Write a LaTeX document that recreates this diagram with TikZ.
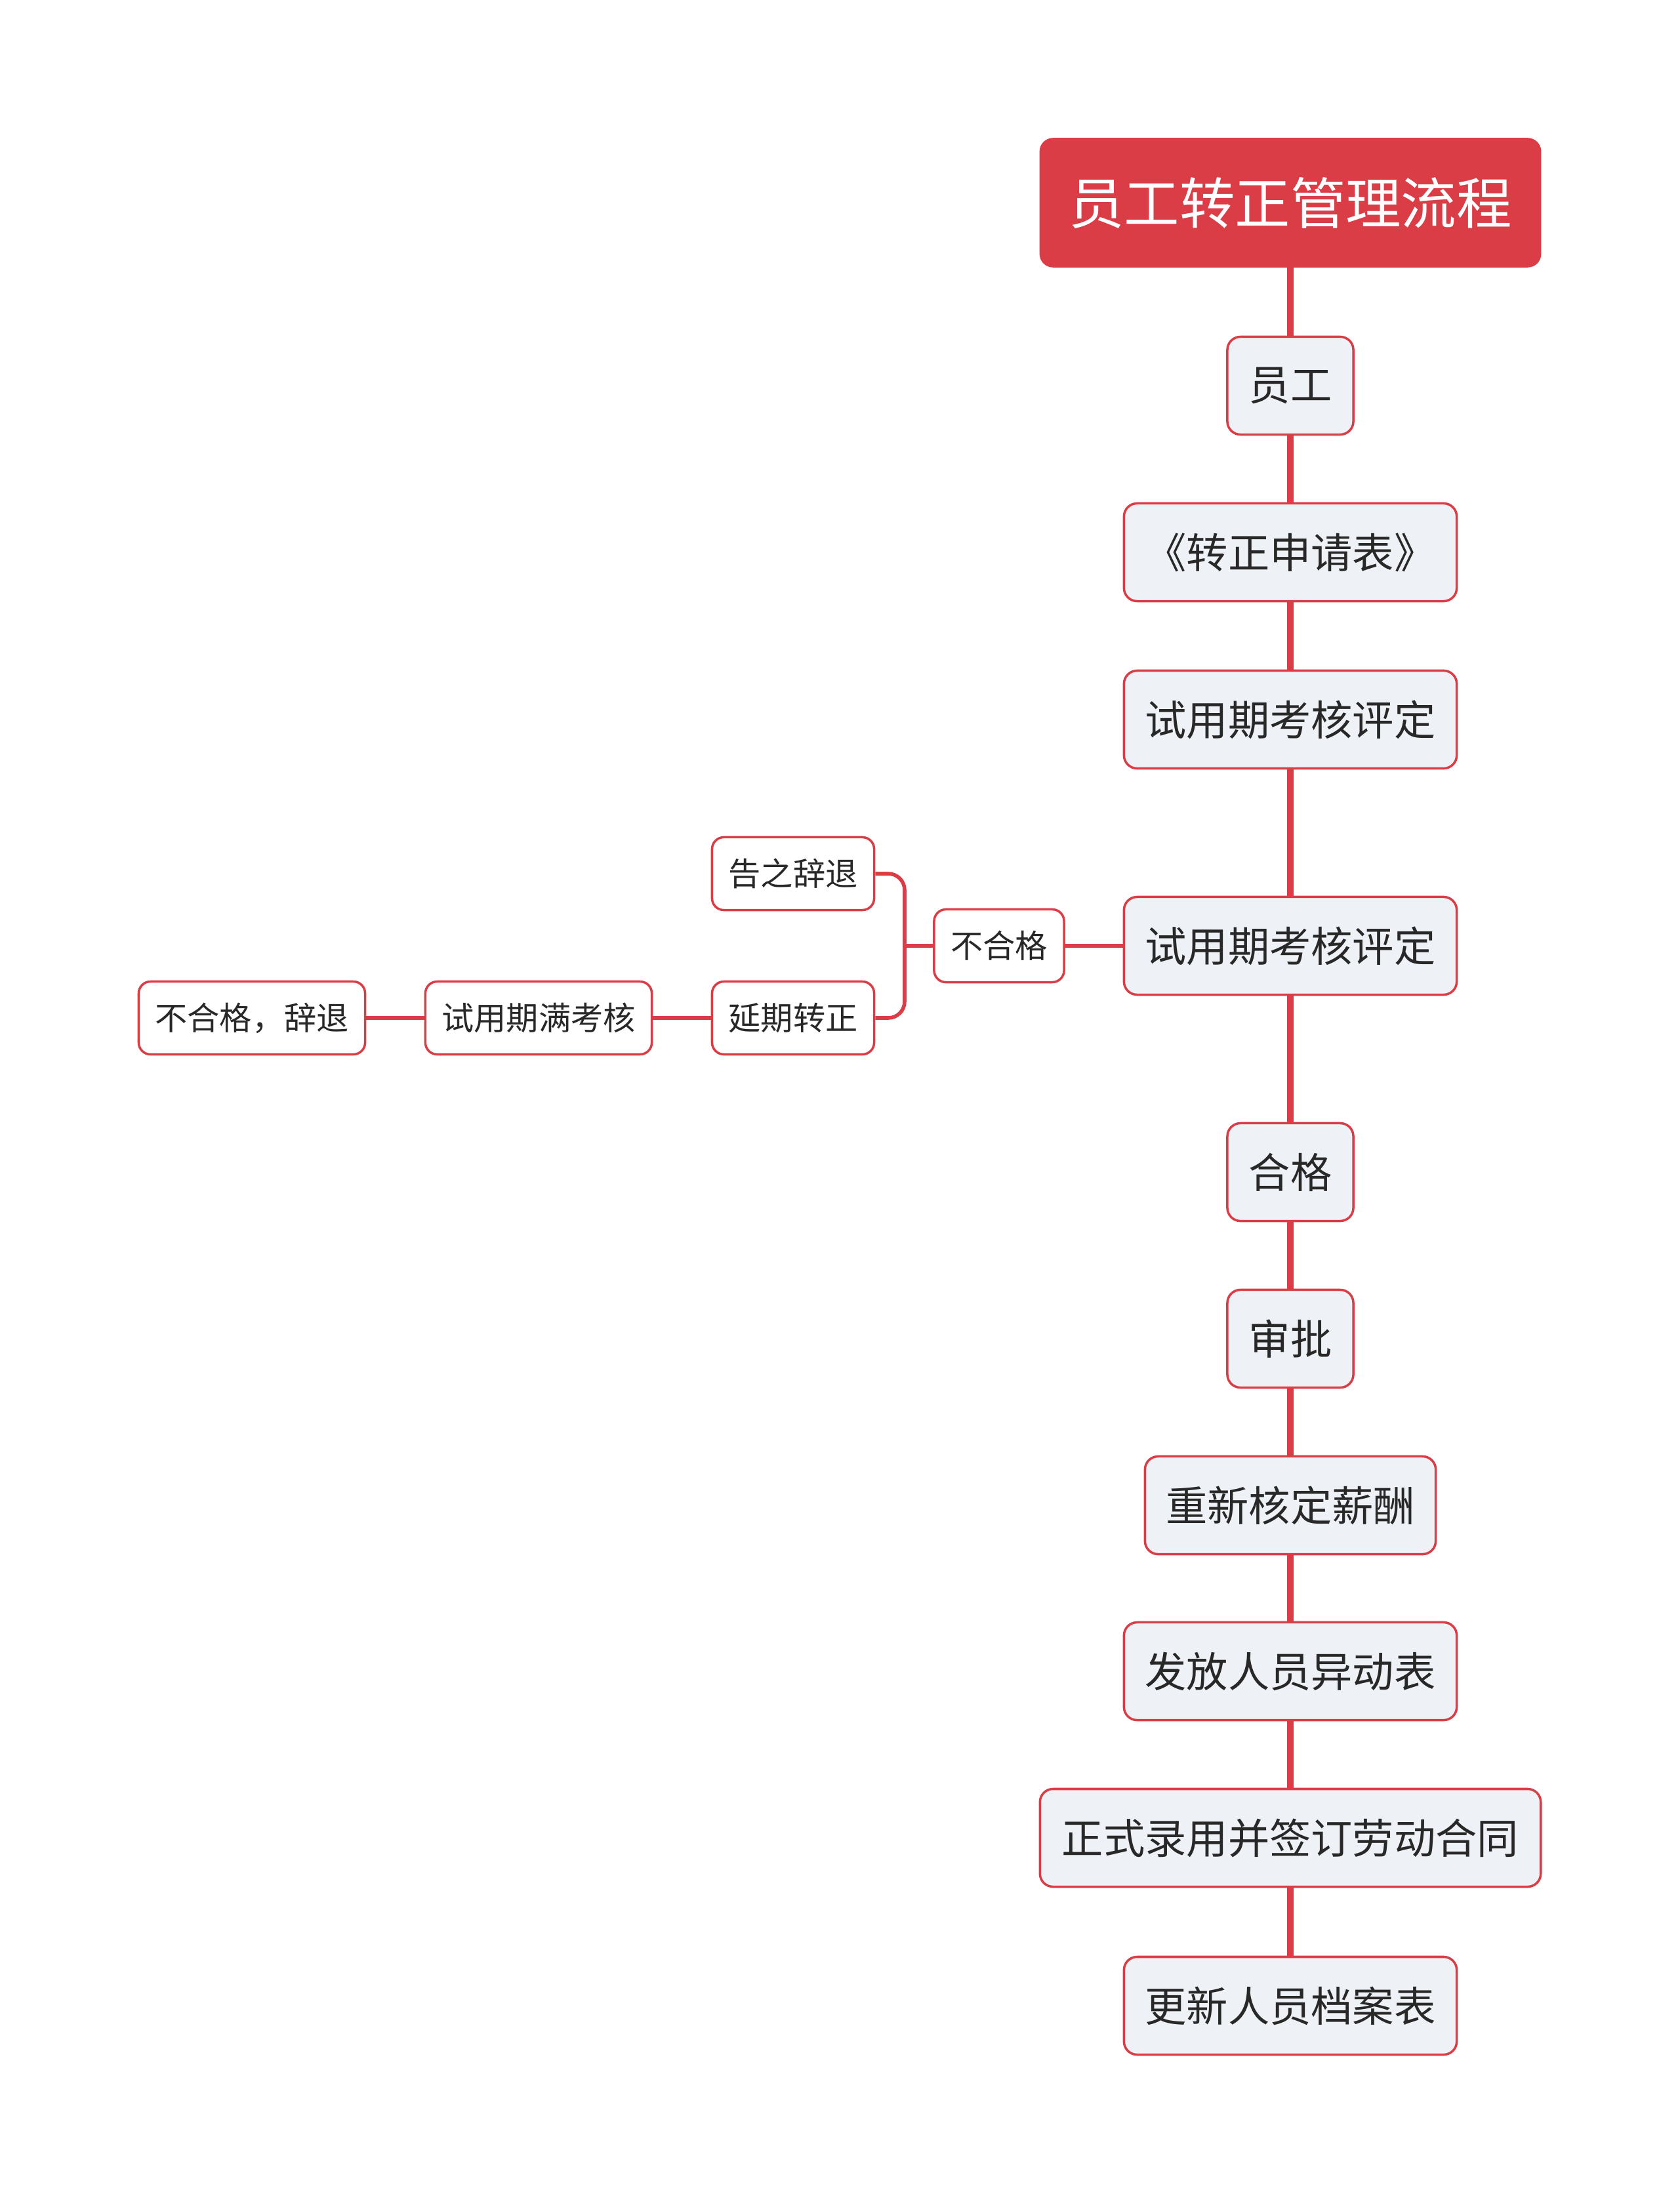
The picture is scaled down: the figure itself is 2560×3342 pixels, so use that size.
\documentclass[tikz,border=0pt]{standalone}
\usepackage{fontspec}
\setmainfont{Noto Sans CJK SC}
\usetikzlibrary{arrows.meta}
\definecolor{flowred}{RGB}{218,61,69}
\definecolor{boxfill}{RGB}{238,241,245}
\definecolor{txt}{RGB}{40,40,40}

\begin{document}
\begin{tikzpicture}[x=0.01cm, y=-0.01cm,
  conn/.style={draw=flowred, line width=2.8pt},
  sconn/.style={draw=flowred, line width=1.6pt},
  box/.style={draw=flowred, line width=1pt, rounded corners=0.2cm, fill=boxfill,
    text=txt, minimum height=1.49cm, inner sep=0pt, font=\fontsize{18}{20}\selectfont},
  sbox/.style={draw=flowred, line width=1pt, rounded corners=0.18cm, fill=white,
    text=txt, minimum height=1.11cm, inner sep=0pt, font=\fontsize{14}{16}\selectfont},
  title/.style={fill=flowred, draw=flowred, rounded corners=0.2cm, text=white,
    minimum width=7.63cm, minimum height=1.96cm, font=\fontsize{24}{26}\selectfont}]
\useasboundingbox (0,0) rectangle (2560,3342);
% --- main column ---
\node[title] (root) at (1967,309) {员工转正管理流程};
\node[box, minimum width=1.92cm] (n1) at (1967,588) {员工};
\node[box, minimum width=5.07cm] (n2) at (1967,842) {《转正申请表》};
\node[box, minimum width=5.07cm] (n3) at (1967,1097) {试用期考核评定};
\node[box, minimum width=5.07cm] (n4) at (1967,1442) {试用期考核评定};
\node[box, minimum width=1.92cm] (n5) at (1967,1787) {合格};
\node[box, minimum width=1.92cm] (n6) at (1967,2041) {审批};
\node[box, minimum width=4.43cm] (n7) at (1967,2295) {重新核定薪酬};
\node[box, minimum width=5.07cm] (n8) at (1967,2548) {发放人员异动表};
\node[box, minimum width=7.63cm] (n9) at (1967,2802) {正式录用并签订劳动合同};
\node[box, minimum width=5.07cm] (n10) at (1967,3058) {更新人员档案表};
\draw[conn] (root.south) -- (n1.north);
\foreach \a/\b in {n1/n2, n2/n3, n3/n4, n4/n5, n5/n6, n6/n7, n7/n8, n8/n9, n9/n10}
  \draw[conn] (\a.south) -- (\b.north);
% --- left branch: fail ---
\node[sbox, minimum width=1.98cm] (fail) at (1523,1442) {不合格};
\node[sbox, minimum width=2.47cm] (dismiss) at (1209,1332) {告之辞退};
\node[sbox, minimum width=2.47cm] (delay) at (1209,1552) {延期转正};
\node[sbox, minimum width=3.45cm] (recheck) at (821,1552) {试用期满考核};
\node[sbox, minimum width=3.45cm] (out) at (384,1552) {不合格，辞退};
\coordinate (fork) at (1379,1442);
\draw[sconn] (n4.west) -- (fail.east);
\draw[sconn] (fail.west) -- (fork);
\draw[sconn, rounded corners=0.25cm] (dismiss.east) -- (dismiss.east -| fork)
  -- (delay.east -| fork) -- (delay.east);
\draw[sconn] (delay.west) -- (recheck.east);
\draw[sconn] (recheck.west) -- (out.east);
\end{tikzpicture}
\end{document}
